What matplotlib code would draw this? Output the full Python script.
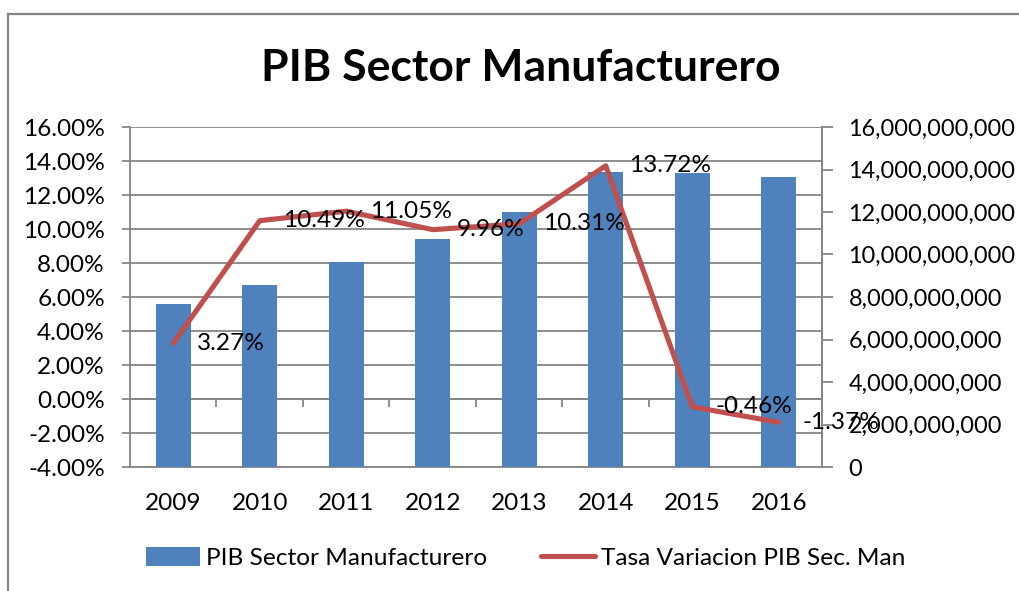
import matplotlib
matplotlib.use("Agg")
import matplotlib.pyplot as plt
from matplotlib.lines import Line2D
from matplotlib.patches import Patch
from matplotlib.ticker import FuncFormatter, FixedLocator
import numpy as np

# ---- data ----
years = ["2009", "2010", "2011", "2012", "2013", "2014", "2015", "2016"]
pib_manufacturero = [7.68e9, 8.58e9, 9.66e9, 10.73e9, 11.98e9, 13.88e9, 13.82e9, 13.63e9]
tasa_variacion = [3.27, 10.49, 11.05, 9.96, 10.31, 13.72, -0.46, -1.37]
pct_ticks = [-4, -2, 0, 2, 4, 6, 8, 10, 12, 14, 16]
val_ticks = [0, 2e9, 4e9, 6e9, 8e9, 10e9, 12e9, 14e9, 16e9]

title = "PIB Sector Manufacturero"
bar_label = "PIB Sector Manufacturero"
line_label = "Tasa Variacion PIB Sec. Man"

# ---- style ----
FONT = "Lato"
plt.rcParams["font.family"] = [FONT, "DejaVu Sans"]
FS = 17.6
FS_R = 16.9
GRAY = "#868686"
BAR_C = "#4F81BD"
LINE_C = "#C0504D"

W, H = 1019, 591
fig = plt.figure(figsize=(W / 100, H / 100), dpi=100)
fig.patch.set_facecolor("white")

L, R, T, B = 130, 822, 127, 467
pos = [L / W, 1 - B / H, (R - L) / W, (B - T) / H]

ax1 = fig.add_axes(pos)
x = np.arange(len(years))
ax1.set_xlim(-0.5, len(years) - 0.5)
ax1.set_ylim(pct_ticks[0], pct_ticks[-1])
ax1.set_yticks(pct_ticks)
ax1.yaxis.set_major_formatter(FuncFormatter(lambda v, p: f"{v:.2f}%"))
ax1.grid(axis="y", color=GRAY, linewidth=1.3)
ax1.set_axisbelow(True)
ax1.spines["top"].set_visible(False)
for s in ["left", "right", "bottom"]:
    ax1.spines[s].set_color(GRAY)
    ax1.spines[s].set_linewidth(1.3)
ax1.tick_params(axis="y", direction="out", length=6, width=1.3, color=GRAY,
                labelsize=FS, pad=12)
ax1.set_xticks(x, years)
ax1.tick_params(axis="x", length=0, labelsize=FS, pad=19)

# category boundary ticks on the 0% line
sec = ax1.secondary_xaxis(0, transform=ax1.transData)
sec.xaxis.set_major_locator(FixedLocator(list(x[:-1] + 0.5)))
sec.tick_params(axis="x", direction="out", length=6, width=1.3, color=GRAY,
                labelbottom=False)
sec.spines["bottom"].set_color(GRAY)
sec.spines["bottom"].set_linewidth(1.3)

# bars on secondary value axis
ax2 = ax1.twinx()
ax2.set_ylim(val_ticks[0], val_ticks[-1])
ax2.bar(x, pib_manufacturero, width=0.41, color=BAR_C, zorder=2)
ax2.set_yticks(val_ticks)
ax2.yaxis.set_major_formatter(FuncFormatter(lambda v, p: f"{v:,.0f}"))
ax2.tick_params(axis="y", direction="out", length=8, width=1.3, color=GRAY,
                labelsize=FS_R, pad=11)
for s in ["top", "left", "bottom"]:
    ax2.spines[s].set_visible(False)
ax2.spines["right"].set_color(GRAY)
ax2.spines["right"].set_linewidth(1.3)

# line on top
ax3 = fig.add_axes(pos, sharex=ax1, sharey=ax1)
ax3.axis("off")
ax3.patch.set_visible(False)
ax3.plot(x, tasa_variacion, color=LINE_C, linewidth=3.7,
         solid_joinstyle="round", solid_capstyle="round", clip_on=False)
for xi, yi in zip(x, tasa_variacion):
    ax3.annotate(f"{yi:.2f}%", (xi, yi), xytext=(17, 0), textcoords="offset points",
                 ha="left", va="center", fontsize=FS, color="black",
                 annotation_clip=False)

# title
fig.text(521 / W, 1 - 68 / H, title, ha="center", va="center",
         fontsize=32, fontweight="bold")

# legend
handles = [Patch(facecolor=BAR_C, edgecolor="none"),
           Line2D([0], [0], color=LINE_C, linewidth=3.7, solid_capstyle="round")]
fig.legend(handles, [bar_label, line_label], loc="center",
           bbox_to_anchor=(526 / W, 1 - 558 / H), ncol=2, frameon=False,
           fontsize=FS, handlelength=2.2, handleheight=0.85, handletextpad=0.25,
           columnspacing=2.2)

# chart border (top and left)
fig.add_artist(Line2D([8 / W, 8 / W], [0, 1 - 14 / H], transform=fig.transFigure,
                      color=GRAY, linewidth=1.6))
fig.add_artist(Line2D([8 / W, 1], [1 - 14 / H, 1 - 14 / H], transform=fig.transFigure,
                      color=GRAY, linewidth=1.6))

fig.savefig("out.png", dpi=100)
